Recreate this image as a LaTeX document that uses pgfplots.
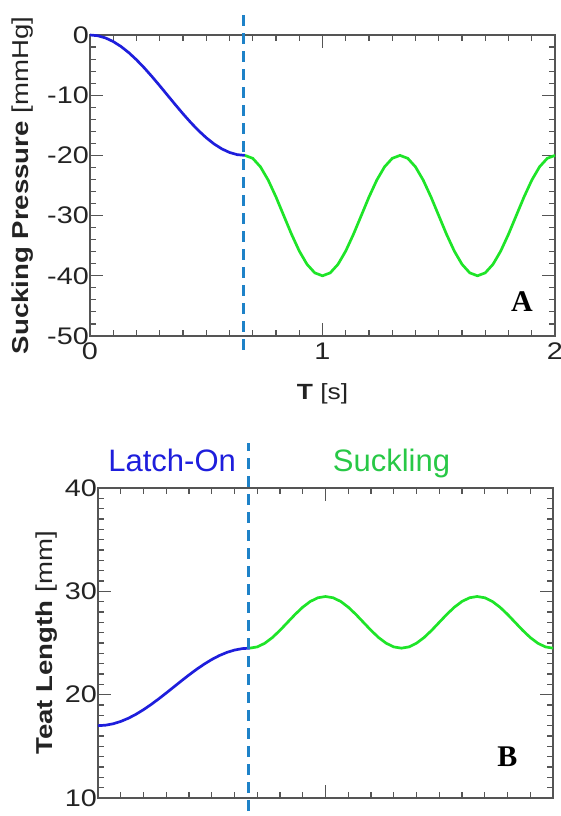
\documentclass[border=0pt]{standalone}
\usepackage{fontspec}
\setmainfont{Liberation Sans}
\newfontfamily\widefont[FakeStretch=1.2]{Liberation Sans}
\newfontfamily\serifbf{Liberation Serif}
\usepackage{pgfplots}
\pgfplotsset{compat=1.18}

\definecolor{curveblue}{RGB}{30,30,220}
\definecolor{curvegreen}{RGB}{30,228,40}
\definecolor{dashblue}{RGB}{30,130,200}
\definecolor{textgreen}{RGB}{40,200,70}
\definecolor{axisgray}{RGB}{85,85,85}
\definecolor{labelgray}{RGB}{35,35,35}

\pgfplotsset{
  panel/.style={
    scale only axis, clip=false,
    xmin=0, xmax=2, xtick={0,1,2}, minor x tick num=9,
    axis line style={draw=axisgray, line width=1.3pt},
    tick style={draw=axisgray, line width=1.1pt},
    major tick length=13pt, minor tick length=6pt,
    tick label style={font=\widefont\fontsize{24}{28}\selectfont, text=labelgray},
    yticklabel style={inner xsep=1pt},
    xticklabel style={yshift=-3pt},
    /pgf/number format/assume math mode=true,
    every axis plot/.append style={line width=2.7pt, no markers},
  }
}

\begin{document}
\begin{tikzpicture}
\useasboundingbox (0,0) rectangle (560pt,816pt);

% panel A
\begin{axis}[panel, at={(90pt,480pt)}, anchor=south west,
  width=465pt, height=301pt,
  ymin=-50, ymax=0, ytick={-50,-40,...,0}, minor y tick num=4,
  xlabel={\textbf{T} [s]},
  xlabel style={at={(axis description cs:0.5,-0.211)}, anchor=base,
    font=\widefont\fontsize{22}{26}\selectfont, text=labelgray},
  ylabel={\textbf{Sucking Pressure} [mmHg]},
  ylabel style={at={(axis description cs:-0.144,0.5)}, anchor=center,
    font=\widefont\fontsize{23}{27}\selectfont, text=labelgray},
]
\addplot[curveblue] coordinates {
(0,0) (0.0333,-0.123) (0.0667,-0.489) (0.1,-1.090) (0.1333,-1.910)
(0.1667,-2.929) (0.2,-4.122) (0.2333,-5.460) (0.2667,-6.910) (0.3,-8.436)
(0.3333,-10) (0.3667,-11.564) (0.4,-13.090) (0.4333,-14.540) (0.4667,-15.878)
(0.5,-17.071) (0.5333,-18.090) (0.5667,-18.910) (0.6,-19.511) (0.6333,-19.877)
(0.6667,-20)};
\addplot[curvegreen] coordinates {
(0.6667,-20) (0.7,-20.489) (0.7333,-21.910) (0.7667,-24.122) (0.8,-26.910)
(0.8333,-30) (0.8667,-33.090) (0.9,-35.878) (0.9333,-38.090) (0.9667,-39.511)
(1.0,-40) (1.0333,-39.511) (1.0667,-38.090) (1.1,-35.878) (1.1333,-33.090)
(1.1667,-30) (1.2,-26.910) (1.2333,-24.122) (1.2667,-21.910) (1.3,-20.489)
(1.3333,-20) (1.3667,-20.489) (1.4,-21.910) (1.4333,-24.122) (1.4667,-26.910)
(1.5,-30) (1.5333,-33.090) (1.5667,-35.878) (1.6,-38.090) (1.6333,-39.511)
(1.6667,-40) (1.7,-39.511) (1.7333,-38.090) (1.7667,-35.878) (1.8,-33.090)
(1.8333,-30) (1.8667,-26.910) (1.9,-24.122) (1.9333,-21.910) (1.9667,-20.489)
(2.0,-20)};
\draw[dashblue, line width=3pt, dash pattern=on 11pt off 7pt]
  (axis cs:0.66,-52.3) -- (axis cs:0.66,3.66);
\node[font=\serifbf\bfseries\fontsize{30}{30}\selectfont]
  at (rel axis cs:0.929,0.113) {A};
\end{axis}

% panel B
\begin{axis}[panel, at={(98pt,18pt)}, anchor=south west,
  width=455pt, height=310pt,
  ymin=10, ymax=40, ytick={10,20,30,40}, minor y tick num=9,
  xticklabels={},
  ylabel={\textbf{Teat Length} [mm]},
  ylabel style={at={(axis description cs:-0.112,0.5)}, anchor=center,
    font=\widefont\fontsize{23}{27}\selectfont, text=labelgray},
]
\addplot[curveblue] coordinates {
(0,17) (0.0333,17.046) (0.0667,17.184) (0.1,17.409) (0.1333,17.716)
(0.1667,18.098) (0.2,18.546) (0.2333,19.048) (0.2667,19.591) (0.3,20.163)
(0.3333,20.75) (0.3667,21.337) (0.4,21.909) (0.4333,22.452) (0.4667,22.954)
(0.5,23.402) (0.5333,23.784) (0.5667,24.091) (0.6,24.316) (0.6333,24.454)
(0.6667,24.5)};
\addplot[curvegreen] coordinates {
(0.6667,24.5) (0.7,24.622) (0.7333,24.977) (0.7667,25.531) (0.8,26.227)
(0.8333,27) (0.8667,27.773) (0.9,28.469) (0.9333,29.023) (0.9667,29.378)
(1.0,29.5) (1.0333,29.378) (1.0667,29.023) (1.1,28.469) (1.1333,27.773)
(1.1667,27) (1.2,26.227) (1.2333,25.531) (1.2667,24.977) (1.3,24.622)
(1.3333,24.5) (1.3667,24.622) (1.4,24.977) (1.4333,25.531) (1.4667,26.227)
(1.5,27) (1.5333,27.773) (1.5667,28.469) (1.6,29.023) (1.6333,29.378)
(1.6667,29.5) (1.7,29.378) (1.7333,29.023) (1.7667,28.469) (1.8,27.773)
(1.8333,27) (1.8667,26.227) (1.9,25.531) (1.9333,24.977) (1.9667,24.622)
(2.0,24.5)};
\draw[dashblue, line width=3pt, dash pattern=on 11pt off 7pt]
  (axis cs:0.66,7) -- (axis cs:0.66,44.36);
\node[anchor=base, text=curveblue, font=\fontsize{31}{31}\selectfont]
  at (rel axis cs:0.163,1.052) {Latch-On};
\node[anchor=base, text=textgreen, font=\fontsize{31}{31}\selectfont]
  at (rel axis cs:0.645,1.052) {Suckling};
\node[font=\serifbf\bfseries\fontsize{30}{30}\selectfont]
  at (rel axis cs:0.90,0.132) {B};
\end{axis}
\end{tikzpicture}
\end{document}
